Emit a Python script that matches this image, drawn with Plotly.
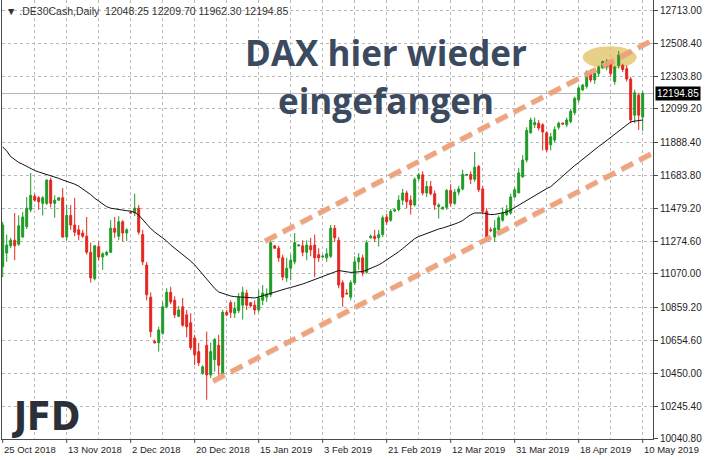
import pandas as pd
import plotly.graph_objects as go

# ---------------- data ----------------
holidays = ["2018-12-24", "2018-12-25", "2018-12-26", "2018-12-30", "2018-12-31",
            "2019-01-01", "2019-04-19", "2019-04-22", "2019-05-01"]
days = pd.date_range("2018-10-25", "2019-05-10", freq="D")
dates = [d.strftime("%Y-%m-%d") for d in days
         if d.weekday() != 5 and d.strftime("%Y-%m-%d") not in holidays]

opens = [11115, 11200, 11245, 11280, 11255, 11300, 11365, 11470, 11555, 11545,
         11510, 11510, 11655, 11510, 11530, 11545, 11300, 11435, 11375, 11345,
         11325, 11305, 11205, 11040, 11240, 11175, 11190, 11205, 11355, 11305,
         11395, 11325, 11455, 11450, 11480, 11315, 11125, 10925, 10650, 10640,
         10700, 10865, 10955, 10905, 10805, 10865, 10815, 10765, 10670, 10585,
         10450, 10625, 10440, 10535, 10625, 10440, 10830, 10890, 10825, 10840,
         10875, 10950, 10890, 10875, 10845, 10905, 10925, 10940, 11245, 11230,
         11170, 11045, 11105, 11145, 11245, 11245, 11205, 11245, 11250, 11190,
         11175, 11170, 11180, 11355, 11280, 11015, 10950, 10925, 11015, 11145,
         11170, 11080, 11295, 11305, 11295, 11315, 11425, 11405, 11462, 11470,
         11530, 11575, 11530, 11500, 11665, 11688, 11575, 11615, 11570, 11490,
         11475, 11485, 11590, 11510, 11580, 11600, 11685, 11690, 11660, 11740,
         11600, 11460, 11345, 11300, 11345, 11405, 11440, 11450, 11550, 11575,
         11675, 11780, 11950, 12000, 12010, 12000, 11950, 11875, 11905, 11985,
         12010, 12000, 12020, 12075, 12155, 12218, 12240, 12320, 12280, 12320,
         12355, 12365, 12385, 12270, 12370, 12370, 12350, 12285, 12060, 12185,
         12048.25]
highs = [11395, 11315, 11295, 11450, 11435, 11455, 11550, 11700, 11570, 11555,
         11555, 11660, 11670, 11560, 11550, 11605, 11500, 11500, 11545, 11375,
         11345, 11425, 11265, 11250, 11270, 11205, 11215, 11405, 11425, 11430,
         11405, 11355, 11460, 11570, 11500, 11345, 11145, 10955, 10660, 10740,
         10895, 10980, 10990, 10930, 10870, 10920, 10845, 10825, 10690, 10640,
         10500, 10710, 10640, 10670, 10690, 10845, 10845, 10905, 10895, 10950,
         10990, 10970, 10895, 10905, 10970, 11000, 10980, 11275, 11250, 11245,
         11190, 11170, 11190, 11325, 11255, 11280, 11280, 11295, 11315, 11230,
         11190, 11230, 11375, 11375, 11300, 11030, 10975, 11030, 11180, 11200,
         11190, 11280, 11315, 11345, 11345, 11435, 11445, 11475, 11478, 11560,
         11600, 11590, 11560, 11672, 11700, 11710, 11650, 11650, 11590, 11510,
         11490, 11600, 11630, 11600, 11620, 11720, 11695, 11710, 11830, 11750,
         11620, 11480, 11360, 11405, 11435, 11485, 11500, 11570, 11610, 11730,
         11810, 11985, 12045, 12045, 12030, 12010, 11960, 11950, 11990, 12020,
         12015, 12045, 12100, 12175, 12240, 12255, 12340, 12345, 12335, 12370,
         12400, 12410, 12400, 12370, 12460, 12380, 12370, 12300, 12220, 12200,
         12209.70]
lows = [11050, 11145, 11230, 11155, 11245, 11295, 11350, 11455, 11520, 11470,
        11435, 11500, 11485, 11420, 11525, 11295, 11280, 11345, 11305, 11280,
        11295, 11190, 11015, 11030, 11155, 11095, 11180, 11200, 11295, 11280,
        11270, 11275, 11445, 11430, 11315, 11125, 10905, 10675, 10635, 10585,
        10690, 10855, 10880, 10795, 10800, 10740, 10675, 10595, 10500, 10495,
        10440, 10285, 10420, 10460, 10435, 10425, 10805, 10795, 10795, 10825,
        10785, 10845, 10865, 10815, 10830, 10875, 10895, 10925, 11225, 11145,
        11030, 11020, 11030, 11130, 11240, 11180, 11155, 11180, 11050, 11145,
        11170, 11145, 11170, 11270, 10980, 10865, 10945, 10905, 11000, 11095,
        11055, 11070, 11290, 11270, 11240, 11300, 11375, 11395, 11455, 11460,
        11500, 11480, 11440, 11490, 11650, 11560, 11550, 11560, 11470, 11415,
        11470, 11470, 11490, 11500, 11560, 11590, 11680, 11630, 11645, 11580,
        11440, 11270, 11330, 11270, 11315, 11395, 11430, 11440, 11545, 11575,
        11670, 11765, 11945, 11980, 11965, 11840, 11830, 11840, 11890, 11970,
        12000, 11985, 12010, 12060, 12140, 12210, 12225, 12265, 12255, 12300,
        12350, 12340, 12300, 12250, 12350, 12330, 12270, 12010, 12010, 11968,
        11962.30]
closes = [11375, 11250, 11280, 11245, 11370, 11425, 11480, 11560, 11530, 11520,
          11545, 11655, 11510, 11530, 11545, 11300, 11435, 11375, 11330, 11315,
          11305, 11205, 11045, 11245, 11175, 11195, 11205, 11355, 11330, 11395,
          11325, 11345, 11450, 11480, 11330, 11145, 10940, 10710, 10640, 10720,
          10865, 10955, 10895, 10815, 10845, 10750, 10740, 10610, 10565, 10515,
          10490, 10440, 10585, 10660, 10500, 10830, 10815, 10830, 10855, 10925,
          10955, 10875, 10870, 10845, 10920, 10950, 10945, 11265, 11230, 11170,
          11050, 11105, 11155, 11265, 11250, 11205, 11250, 11220, 11170, 11170,
          11180, 11195, 11355, 11295, 11000, 10925, 10945, 11015, 11145, 11170,
          11075, 11265, 11305, 11290, 11315, 11420, 11395, 11460, 11470, 11530,
          11575, 11520, 11500, 11660, 11688, 11575, 11615, 11570, 11500, 11500,
          11485, 11590, 11510, 11580, 11600, 11690, 11690, 11660, 11735, 11595,
          11460, 11300, 11340, 11355, 11420, 11450, 11470, 11550, 11595, 11700,
          11780, 11965, 12030, 12015, 11980, 11955, 11845, 11925, 11970, 12010,
          12005, 12030, 12085, 12165, 12230, 12248, 12330, 12280, 12320, 12360,
          12395, 12395, 12320, 12360, 12435, 12345, 12285, 12030, 12200, 12060,
          12194.85]
ma_values = [11862, 11837, 11802, 11784, 11765, 11754, 11740, 11726, 11715, 11706,
             11698, 11692, 11685, 11676, 11666, 11656, 11648, 11638, 11630, 11617,
             11600, 11582, 11565, 11542, 11524, 11506, 11489, 11480, 11475, 11470,
             11467, 11464, 11462, 11453, 11437, 11409, 11375, 11353, 11331, 11313,
             11294, 11275, 11250, 11230, 11212, 11191, 11169, 11150, 11126, 11097,
             11066, 11035, 11007, 10979, 10957, 10948, 10938, 10932, 10928, 10926,
             10925, 10923, 10922, 10920, 10926, 10934, 10938, 10948, 10957, 10966,
             10973, 10979, 10985, 10991, 10998, 11007, 11016, 11026, 11034, 11043,
             11053, 11062, 11072, 11082, 11091, 11088, 11082, 11079, 11081, 11082,
             11085, 11094, 11104, 11114, 11126, 11141, 11157, 11172, 11189, 11208,
             11228, 11250, 11270, 11290, 11303, 11313, 11322, 11331, 11341, 11350,
             11356, 11363, 11371, 11381, 11391, 11403, 11422, 11439, 11450, 11451,
             11450, 11445, 11440, 11441, 11447, 11453, 11456, 11469, 11484, 11498,
             11511, 11526, 11542, 11559, 11576, 11590, 11602, 11614, 11637, 11658,
             11680, 11702, 11724, 11746, 11765, 11786, 11806, 11827, 11845, 11865,
             11883, 11903, 11923, 11943, 11962, 11982, 12000, 12018, 12023, 12027,
             12030]

price_ticks = [12713.00, 12508.40, 12303.80, 12099.20, 11888.40, 11683.80, 11479.20,
               11274.60, 11070.00, 10859.20, 10654.60, 10450.00, 10245.40, 10040.80]
label_every = 16
grid_every = 8

# drawn objects (bar index, price)
upper_channel = (65.6, 11275, 162.5, 12529)
lower_channel = (52.6, 10402, 162.5, 11824)
peak_ellipse = (145.0, 12352, 158.5, 12490)

symbol = ".DE30Cash,Daily"
headline = ["DAX hier wieder", "eingefangen"]
logo = "JFD"

# ---------------- styling ----------------
GREEN = "#1f9a26"
RED = "#e4261f"
GRID = "#b9b9b9"
AXIS = "#4a4a4a"
TXT = "#1e1e1e"
FONT = "Liberation Sans"

fig = go.Figure()
fig.add_trace(go.Candlestick(
    x=dates, open=opens, high=highs, low=lows, close=closes,
    increasing=dict(line=dict(color=GREEN, width=1), fillcolor=GREEN),
    decreasing=dict(line=dict(color=RED, width=1), fillcolor=RED),
    whiskerwidth=0, showlegend=False, hoverinfo="skip"))
fig.add_trace(go.Scatter(x=dates, y=ma_values, mode="lines",
                         line=dict(color="#111111", width=1),
                         showlegend=False, hoverinfo="skip"))

n = len(dates)
grid_idx = list(range(0, n, grid_every))
label_idx = list(range(0, n, label_every))

last_o, last_h, last_l, last_c = opens[-1], highs[-1], lows[-1], closes[-1]

shapes = []
# last price line
shapes.append(dict(type="line", xref="paper", x0=0, x1=1, yref="y", y0=last_c, y1=last_c,
                   line=dict(color="#b4b4b4", width=1), layer="between"))
# peak ellipse
ex0, ey0, ex1, ey1 = peak_ellipse
shapes.append(dict(type="circle", xref="x", yref="y", x0=ex0, x1=ex1, y0=ey0, y1=ey1,
                   fillcolor="rgba(226,192,96,0.75)", line=dict(width=0), layer="between"))
# channel lines (shadow + line)
for (cx0, cy0, cx1, cy1) in (upper_channel, lower_channel):
    shapes.append(dict(type="line", xref="x", yref="y", x0=cx0, y0=cy0 - 6, x1=cx1, y1=cy1 - 6,
                       line=dict(color="rgba(120,120,120,0.22)", width=5, dash="13px,7px"),
                       layer="above"))
    shapes.append(dict(type="line", xref="x", yref="y", x0=cx0, y0=cy0, x1=cx1, y1=cy1,
                       line=dict(color="rgba(240,160,120,0.95)", width=5, dash="13px,7px"),
                       layer="above"))
# date tick marks only where a date label sits
for i in label_idx:
    shapes.append(dict(type="line", xref="x", yref="paper", x0=i, x1=i, y0=0, y1=-0.009,
                       line=dict(color=AXIS, width=1)))

annotations = []
for i in label_idx:
    d = pd.Timestamp(dates[i])
    annotations.append(dict(x=i, xref="x", y=0, yref="paper", yanchor="top", xanchor="left",
                            yshift=-3, xshift=-1, showarrow=False,
                            text=f"{d.day} {d.strftime('%b %Y')}",
                            font=dict(family=FONT, size=9.5, color=TXT)))
# header
annotations.append(dict(x=0, y=1, xref="paper", yref="paper", xanchor="left", yanchor="top",
                        xshift=2, yshift=-3, showarrow=False,
                        text=f"▼ {symbol}  {last_o:.2f} {last_h:.2f} {last_l:.2f} {last_c:.2f}",
                        font=dict(family="Liberation Sans", size=10.5, color="#333333")))
# last price box
annotations.append(dict(x=1, xref="paper", y=last_c, yref="y", xanchor="left", yanchor="middle",
                        xshift=2, showarrow=False, text=f"{last_c:.2f}",
                        bgcolor="#000000", borderpad=1,
                        font=dict(family=FONT, size=10, color="#ffffff")))
# headline
annotations.append(dict(x=0.590, y=0.8815, xref="paper", yref="paper", showarrow=False,
                        xanchor="center", yanchor="middle",
                        text=f"<b>{headline[0]}</b>",
                        font=dict(family="Open Sans", size=35, color="#3b4a5e")))
annotations.append(dict(x=0.590, y=0.772, xref="paper", yref="paper", showarrow=False,
                        xanchor="center", yanchor="middle",
                        text=f"<b>{headline[1]}</b>",
                        font=dict(family="Open Sans", size=35, color="#3b4a5e")))
# logo
annotations.append(dict(x=0.012, y=0.052, xref="paper", yref="paper", xanchor="left",
                        yanchor="middle", showarrow=False, text=f"<b>{logo}</b>",
                        font=dict(family="DejaVu Sans Condensed", size=39, color="#2b2f37")))

fig.update_layout(
    width=705, height=460,
    margin=dict(l=2, r=52, t=0, b=21),
    paper_bgcolor="white", plot_bgcolor="white",
    shapes=shapes, annotations=annotations,
    xaxis=dict(type="category", range=[-0.175, 162.575], automargin=False,
               tickvals=[dates[i] for i in grid_idx], ticktext=[""] * len(grid_idx),
               showgrid=True, gridcolor=GRID, griddash="3px,3px", gridwidth=1,
               ticks="",
               showline=True, linecolor=AXIS, linewidth=1, mirror=False,
               rangeslider=dict(visible=False), zeroline=False, fixedrange=True),
    yaxis=dict(side="right", range=[10040, 12778.6], automargin=False,
               tickvals=price_ticks, ticktext=[f"{v:.2f}" for v in price_ticks],
               showgrid=True, gridcolor=GRID, griddash="3px,3px", gridwidth=1,
               ticks="outside", ticklen=4, tickcolor=AXIS,
               tickfont=dict(family=FONT, size=10, color=TXT),
               showline=True, linecolor=AXIS, linewidth=1, mirror=True,
               zeroline=False, fixedrange=True),
)

fig.write_html("out.html", config={"displayModeBar": False})

# remove the default page margin so the 705x460 figure fills the window exactly
with open("out.html", encoding="utf-8") as f:
    html = f.read()
html = html.replace("<head>", "<head><style>html,body{margin:0;padding:0;overflow:hidden;}</style>", 1)
with open("out.html", "w", encoding="utf-8") as f:
    f.write(html)
